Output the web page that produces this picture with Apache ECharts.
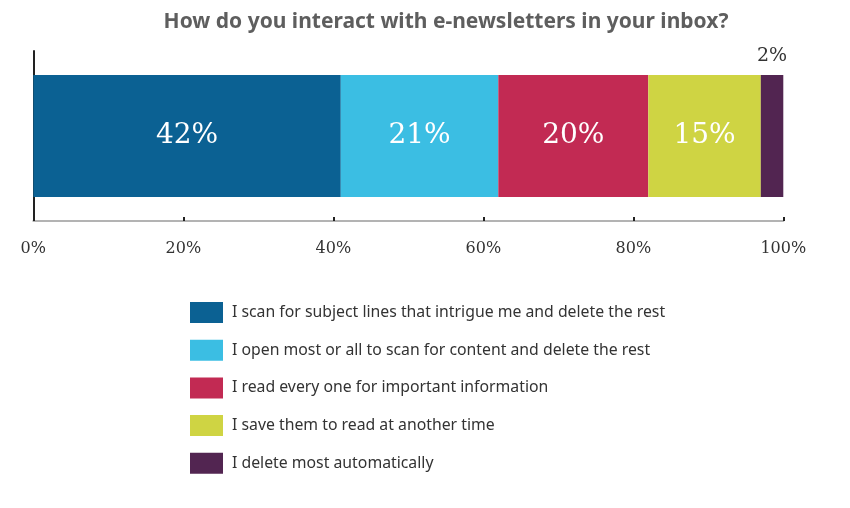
<!DOCTYPE html>
<html><head><meta charset="utf-8">
<script src="https://cdn.jsdelivr.net/npm/echarts@6/dist/echarts.min.js"></script>
<style>html,body{margin:0;padding:0;background:#fff}#c{width:850px;height:508px}</style>
</head><body><div id="c"></div>
<script>
var title = 'How do you interact with e-newsletters in your inbox?';
var seriesNames = [
  'I scan for subject lines that intrigue me and delete the rest',
  'I open most or all to scan for content and delete the rest',
  'I read every one for important information',
  'I save them to read at another time',
  'I delete most automatically'
];
// bar lengths as drawn (percent of axis)
var barValues = [41, 21, 20, 15, 3];
// printed labels
var labelTexts = ['42%', '21%', '20%', '15%', '2%'];
var colors = ['#0b6193', '#3bbee3', '#c22a53', '#cfd443', '#522551'];
var xTicks = [0, 20, 40, 60, 80, 100];

var series = seriesNames.map(function (n, i) {
  var last = i === seriesNames.length - 1;
  return {
    name: n, type: 'bar', stack: 'all', barWidth: 122,
    data: [barValues[i]],
    itemStyle: { color: colors[i] },
    label: {
      show: true,
      position: last ? 'top' : 'inside',
      distance: 9,
      formatter: (function (t) { return function () { return t; }; })(labelTexts[i]),
      color: last ? '#333' : '#fff',
      fontFamily: 'DejaVu Serif',
      fontSize: last ? 19 : 28
    }
  };
});

var chart = echarts.init(document.getElementById('c'));
chart.setOption({
  animation: false,
  backgroundColor: '#fff',
  title: {
    text: title, left: 441, top: 7, textAlign: 'center',
    textStyle: { fontFamily: 'Noto Sans', fontWeight: 'bold', fontSize: 21, color: '#5e5e5e' }
  },
  legend: {
    orient: 'vertical', left: 185, top: 297,
    itemWidth: 33, itemHeight: 21, itemGap: 16.7,
    selectedMode: false,
    icon: 'rect',
    data: seriesNames,
    textStyle: { fontFamily: 'Noto Sans', fontSize: 15.8, color: '#333', padding: [0, 0, 0, 4] }
  },
  grid: { left: 33.3, right: 66.7, top: 51, height: 170 },
  xAxis: {
    type: 'value', min: 0, max: 100, interval: 20,
    axisLine: { show: true, lineStyle: { color: '#b3b3b3', width: 2 } },
    axisTick: { show: true, inside: true, length: 4, lineStyle: { color: '#222', width: 2 } },
    splitLine: { show: false },
    axisLabel: {
      margin: 20,
      formatter: function (v) { return xTicks.indexOf(v) >= 0 ? v + '%' : ''; },
      fontFamily: 'DejaVu Serif', fontSize: 16, color: '#333'
    }
  },
  yAxis: {
    type: 'category', data: [''],
    axisLine: { show: true, lineStyle: { color: '#222', width: 2 } },
    axisTick: { show: false }, axisLabel: { show: false }
  },
  series: series
});
</script></body></html>
